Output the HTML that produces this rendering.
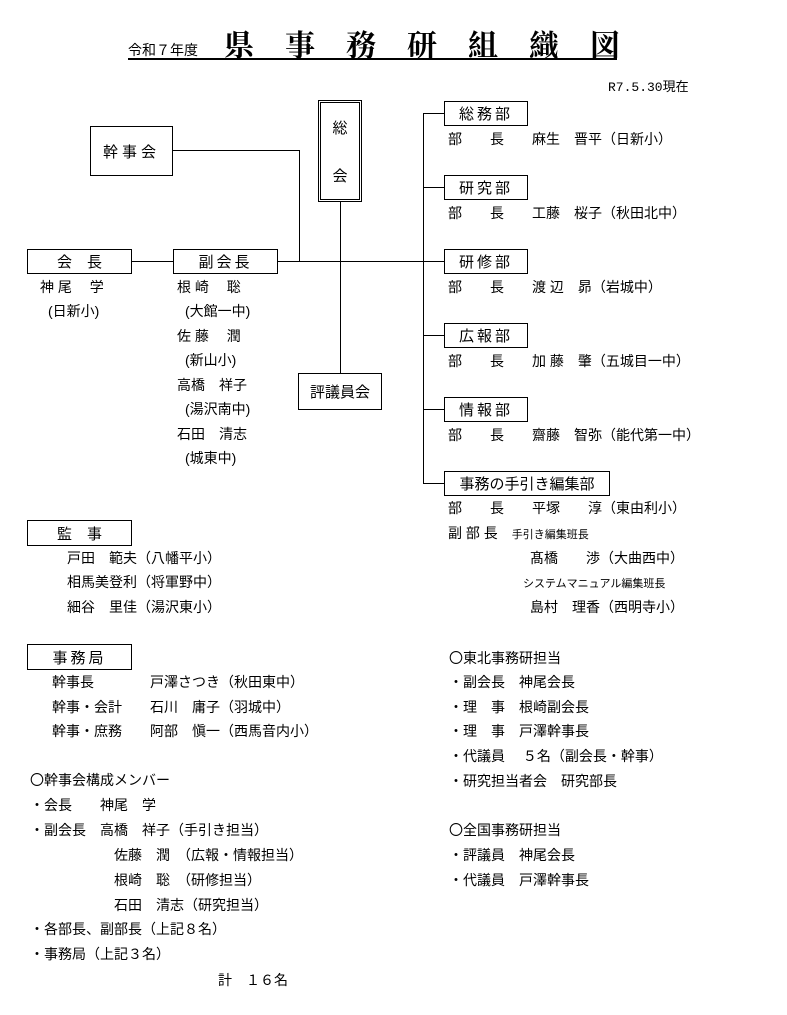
<!DOCTYPE html>
<html><head><meta charset="utf-8"><style>
body{margin:0;background:#fff;}
#p{position:relative;width:787px;height:1015px;overflow:hidden;font-family:"Liberation Sans","Noto Sans CJK JP",sans-serif;color:#000;font-size:14px;}
.t{position:absolute;white-space:pre;line-height:16px;}
.b{position:absolute;border:1.5px solid #000;box-sizing:border-box;display:flex;align-items:center;justify-content:center;font-size:15px;}
.h{position:absolute;height:0;border-top:1.2px solid #000;}
.v{position:absolute;width:0;border-left:1.2px solid #000;}
.s{font-size:11px;}
</style></head><body><div id="p">
<div class="t" style="left:128px;top:42px;font-size:14px;">令和７年度</div>
<div class="t" style="left:224px;top:26px;font-size:30px;line-height:34px;font-weight:bold;letter-spacing:31px;font-family:'Noto Serif CJK SC','Noto Sans CJK JP',serif;">県事務研組織図</div>
<div class="h" style="left:128px;top:58px;width:489px;border-top-width:2.5px;"></div>
<div class="t" style="left:608px;top:80px;font-family:'Liberation Mono','Noto Sans CJK JP',monospace;font-size:13px;">R7.5.30現在</div>

<div class="b" style="left:318px;top:100px;width:44px;height:102px;border:3px double #000;flex-direction:column;justify-content:space-around;">総<br><span>会</span></div>
<div class="b" style="left:90px;top:126px;width:83px;height:50px;letter-spacing:4px;">幹事会</div>
<div class="h" style="left:173px;top:150px;width:126px;"></div>
<div class="v" style="left:299px;top:150px;height:111px;"></div>
<div class="v" style="left:340px;top:202px;height:171px;"></div>

<div class="b" style="left:27px;top:249px;width:105px;height:25px;">会　長</div>
<div class="h" style="left:132px;top:261px;width:41px;"></div>
<div class="b" style="left:173px;top:249px;width:105px;height:25px;letter-spacing:3px;">副会長</div>
<div class="h" style="left:278px;top:261px;width:167px;"></div>
<div class="v" style="left:423px;top:113px;height:370px;"></div>

<div class="h" style="left:423px;top:113px;width:22px;"></div>
<div class="h" style="left:423px;top:187px;width:22px;"></div>
<div class="h" style="left:423px;top:335px;width:22px;"></div>
<div class="h" style="left:423px;top:409px;width:22px;"></div>
<div class="h" style="left:423px;top:483px;width:22px;"></div>

<div class="b" style="left:444px;top:101px;width:84px;height:25px;letter-spacing:3px;">総務部</div>
<div class="b" style="left:444px;top:175px;width:84px;height:25px;letter-spacing:3px;">研究部</div>
<div class="b" style="left:444px;top:249px;width:84px;height:25px;letter-spacing:3px;">研修部</div>
<div class="b" style="left:444px;top:323px;width:84px;height:25px;letter-spacing:3px;">広報部</div>
<div class="b" style="left:444px;top:397px;width:84px;height:25px;letter-spacing:3px;">情報部</div>
<div class="b" style="left:444px;top:471px;width:166px;height:25px;">事務の手引き編集部</div>

<div class="t" style="left:448px;top:131px;">部　　長　　麻生　晋平（日新小）</div>
<div class="t" style="left:448px;top:205px;">部　　長　　工藤　桜子（秋田北中）</div>
<div class="t" style="left:448px;top:279px;">部　　長　　渡 辺　昴（岩城中）</div>
<div class="t" style="left:448px;top:353px;">部　　長　　加 藤　肇（五城目一中）</div>
<div class="t" style="left:448px;top:427px;">部　　長　　齋藤　智弥（能代第一中）</div>
<div class="t" style="left:448px;top:500px;">部　　長　　平塚　　淳（東由利小）</div>
<div class="t" style="left:448px;top:525px;">副 部 長　<span class="s">手引き編集班長</span></div>
<div class="t" style="left:530px;top:550px;">髙橋　　渉（大曲西中）</div>
<div class="t s" style="left:523px;top:576px;">システムマニュアル編集班長</div>
<div class="t" style="left:530px;top:599px;">島村　理香（西明寺小）</div>

<div class="b" style="left:298px;top:373px;width:84px;height:37px;">評議員会</div>

<div class="t" style="left:40px;top:279px;">神 尾　 学</div>
<div class="t" style="left:48px;top:303px;">(日新小)</div>
<div class="t" style="left:177px;top:279px;">根 崎　 聡</div>
<div class="t" style="left:185px;top:303px;">(大館一中)</div>
<div class="t" style="left:177px;top:328px;">佐 藤　 潤</div>
<div class="t" style="left:185px;top:352px;">(新山小)</div>
<div class="t" style="left:177px;top:377px;">高橋　祥子</div>
<div class="t" style="left:185px;top:401px;">(湯沢南中)</div>
<div class="t" style="left:177px;top:426px;">石田　清志</div>
<div class="t" style="left:185px;top:450px;">(城東中)</div>

<div class="b" style="left:27px;top:520px;width:105px;height:26px;">監　事</div>
<div class="t" style="left:67px;top:550px;">戸田　範夫（八幡平小）</div>
<div class="t" style="left:67px;top:574px;">相馬美登利（将軍野中）</div>
<div class="t" style="left:67px;top:599px;">細谷　里佳（湯沢東小）</div>

<div class="b" style="left:27px;top:644px;width:105px;height:26px;letter-spacing:3px;">事務局</div>
<div class="t" style="left:52px;top:674px;">幹事長　　　　戸澤さつき（秋田東中）</div>
<div class="t" style="left:52px;top:699px;">幹事・会計　　石川　庸子（羽城中）</div>
<div class="t" style="left:52px;top:723px;">幹事・庶務　　阿部　愼一（西馬音内小）</div>

<div class="t" style="left:30px;top:772px;">〇幹事会構成メンバー</div>
<div class="t" style="left:30px;top:797px;">・会長　　神尾　学</div>
<div class="t" style="left:30px;top:822px;">・副会長　高橋　祥子（手引き担当）</div>
<div class="t" style="left:114px;top:847px;">佐藤　潤　（広報・情報担当）</div>
<div class="t" style="left:114px;top:872px;">根崎　聡　（研修担当）</div>
<div class="t" style="left:114px;top:897px;">石田　清志（研究担当）</div>
<div class="t" style="left:30px;top:921px;">・各部長、副部長（上記８名）</div>
<div class="t" style="left:30px;top:946px;">・事務局（上記３名）</div>
<div class="t" style="left:218px;top:972px;">計　１６名</div>

<div class="t" style="left:449px;top:650px;">〇東北事務研担当</div>
<div class="t" style="left:449px;top:674px;">・副会長　神尾会長</div>
<div class="t" style="left:449px;top:699px;">・理　事　根崎副会長</div>
<div class="t" style="left:449px;top:723px;">・理　事　戸澤幹事長</div>
<div class="t" style="left:449px;top:748px;">・代議員　 ５名（副会長・幹事）</div>
<div class="t" style="left:449px;top:773px;">・研究担当者会　研究部長</div>
<div class="t" style="left:449px;top:822px;">〇全国事務研担当</div>
<div class="t" style="left:449px;top:847px;">・評議員　神尾会長</div>
<div class="t" style="left:449px;top:872px;">・代議員　戸澤幹事長</div>
</div></body></html>
